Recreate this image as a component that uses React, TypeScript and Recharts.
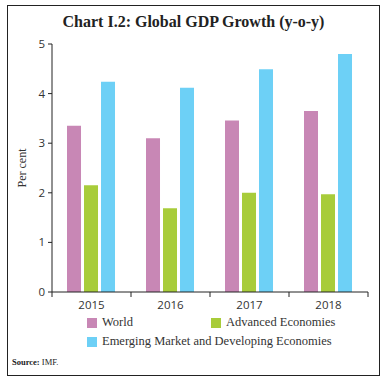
import { BarChart, Bar, XAxis, YAxis } from 'recharts'

const years = ['2015', '2016', '2017', '2018']
const world = [3.35, 3.1, 3.46, 3.65]
const advanced = [2.15, 1.69, 2.0, 1.97]
const emerging = [4.24, 4.12, 4.49, 4.8]
const yTicks = [0, 1, 2, 3, 4, 5]

const series = [
  { key: 'world', name: 'World', color: '#C887B5' },
  { key: 'advanced', name: 'Advanced Economies', color: '#A8CC3A' },
  { key: 'emerging', name: 'Emerging Market and Developing Economies', color: '#6DD0F6' },
]

const data = years.map((year, i) => ({
  year,
  world: world[i],
  advanced: advanced[i],
  emerging: emerging[i],
}))

const serif = '"Liberation Serif", "DejaVu Serif", serif'
const sans = '"Open Sans", "Noto Sans", sans-serif'

// category labels with tick marks on the category boundaries
function YearTick(props: any) {
  const { x, y, payload, index } = props
  const off = payload && payload.offset ? payload.offset : 39.5
  return (
    <g>
      <line x1={x - off} x2={x - off} y1={y} y2={y + 5} stroke="#222" />
      {index === years.length - 1 && <line x1={x + off} x2={x + off} y1={y} y2={y + 5} stroke="#222" />}
      <text x={x} y={y + 17} textAnchor="middle" fontSize={11.5} fontFamily={sans} fill="#333">
        {payload.value}
      </text>
    </g>
  )
}

export default function App() {
  return (
    <div style={{ position: 'absolute', left: 0, top: 0, width: 387, height: 384, background: '#fff' }}>
      <div
        style={{
          position: 'absolute',
          left: 7,
          top: 5,
          width: 371,
          height: 369,
          border: '1.5px solid #222',
        }}
      />
      <div
        style={{
          position: 'absolute',
          left: 0,
          top: 13,
          width: 387,
          textAlign: 'center',
          fontFamily: serif,
          fontWeight: 'bold',
          fontSize: 16,
          color: '#222',
        }}
      >
        Chart I.2: Global GDP Growth (y-o-y)
      </div>
      <div style={{ position: 'absolute', left: 0, top: 0 }}>
        <BarChart
          width={387}
          height={384}
          data={data}
          margin={{ top: 44, right: 19, bottom: 72, left: 0 }}
          barCategoryGap="19%"
          barGap={3}
        >
          <XAxis
            dataKey="year"
            height={20}
            tickLine={false}
            tickSize={0}
            tickMargin={0}
            axisLine={{ stroke: '#222' }}
            tick={<YearTick />}
            interval={0}
          />
          <YAxis
            width={52}
            domain={[0, 5]}
            ticks={yTicks}
            tickSize={4}
            tickMargin={3}
            axisLine={{ stroke: '#222' }}
            tickLine={{ stroke: '#222' }}
            tick={{ fontSize: 11.5, fontFamily: sans, fill: '#333' }}
            label={{
              value: 'Per cent',
              angle: -90,
              position: 'insideLeft',
              offset: 22,
              style: { fontSize: 12, fontFamily: serif, fill: '#333', textAnchor: 'middle' },
            }}
          />
          {series.map((s) => (
            <Bar key={s.key} dataKey={s.key} name={s.name} fill={s.color} isAnimationActive={false} />
          ))}
        </BarChart>
      </div>
      {series.map((s, i) => (
        <div
          key={s.key}
          style={{
            position: 'absolute',
            left: i === 1 ? 211 : 87,
            top: i === 2 ? 334 : 315,
            display: 'flex',
            alignItems: 'center',
            fontFamily: serif,
            fontSize: 12.5,
            color: '#333',
            whiteSpace: 'nowrap',
          }}
        >
          <span style={{ display: 'inline-block', width: 10, height: 10, background: s.color, marginRight: 5 }} />
          {s.name}
        </div>
      ))}
      <div style={{ position: 'absolute', left: 12, top: 357, fontFamily: serif, fontSize: 8.5, color: '#222' }}>
        <b>Source:</b> IMF.
      </div>
    </div>
  )
}
